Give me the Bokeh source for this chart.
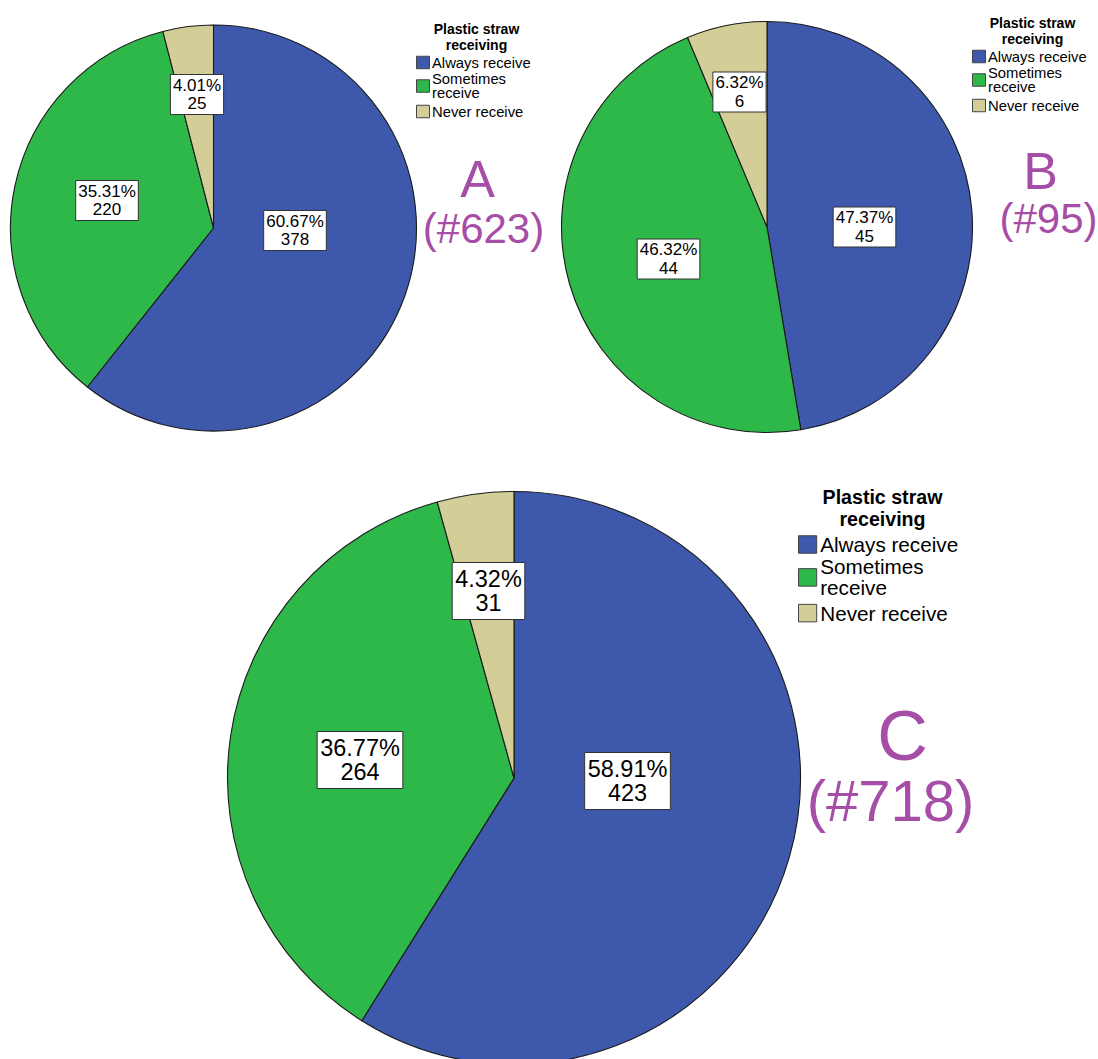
import math
from bokeh.plotting import figure
from bokeh.models import Range1d, ColumnDataSource
from bokeh.core.properties import value
from bokeh.embed import file_html
from bokeh.resources import INLINE

# ---------------- data ----------------
categories = ["Always receive", "Sometimes receive", "Never receive"]
legend_labels = ["Always receive", "Sometimes\nreceive", "Never receive"]
legend_title = "Plastic straw\nreceiving"
counts_A = [378, 220, 25]
counts_B = [45, 44, 6]
counts_C = [423, 264, 31]
panel_letters = ["A", "B", "C"]
colors = ["#3E58AC", "#2EB84A", "#D3CE98"]
purple = "#A64DA8"

W, H = 1098, 1059
FONT = "Liberation Sans"

p = figure(width=W, height=H, x_range=Range1d(0, W), y_range=Range1d(0, H),
           output_backend="svg", toolbar_location=None, min_border=0,
           min_border_left=0, min_border_right=0, min_border_top=0, min_border_bottom=0)
p.xaxis.visible = False
p.yaxis.visible = False
p.grid.visible = False
p.outline_line_color = None
p.background_fill_color = "white"


def Y(sy):
    return H - sy


def draw_pie(counts, cx, cy, r, label_pos, font_px, lh, box_pad, box_h):
    total = sum(counts)
    fr = [c / total for c in counts]
    cum = [0.0]
    for f in fr:
        cum.append(cum[-1] + f)
    starts = [math.pi / 2 - 2 * math.pi * cum[i + 1] for i in range(len(fr))]
    ends = [math.pi / 2 - 2 * math.pi * cum[i] for i in range(len(fr))]
    src = ColumnDataSource(dict(x=[cx] * 3, y=[Y(cy)] * 3, start=starts, end=ends, color=colors))
    p.wedge(x="x", y="y", radius=r, start_angle="start", end_angle="end",
            fill_color="color", line_color="#1a1a1a", line_width=1.1, source=src)
    pct = ["%.2f%%" % (100 * f) for f in fr]
    texts = [pct[i] + "\n" + str(counts[i]) for i in range(3)]
    widths = []
    for s in pct:
        em = sum(0.889 if ch == "%" else (0.278 if ch == "." else 0.556) for ch in s)
        widths.append(em * font_px + box_pad)
    hts = [box_h] * 3
    lx = [q[0] for q in label_pos]
    ly = [Y(q[1]) for q in label_pos]
    p.rect(x=lx, y=ly, width=widths, height=hts, fill_color="white",
           line_color="#333333", line_width=1)
    p.text(x=lx, y=ly, text=texts, text_align="center", text_baseline="middle",
           text_font=value(FONT), text_font_size="%.1fpx" % font_px,
           text_line_height=lh, text_color="#000000")


def draw_legend(sq_left, title_y, s):
    p.text(x=[sq_left + 60 * s], y=[Y(title_y - 7 * s)], text=[legend_title],
           text_align="center", text_baseline="top", text_font=value(FONT),
           text_font_size="%.1fpx" % (14 * s), text_font_style="bold",
           text_line_height=1.0, text_color="#000000")
    item_dy = [35, 58.5, 84]
    for i in range(3):
        yc = title_y + item_dy[i] * s
        p.rect(x=[sq_left + 6.5 * s], y=[Y(yc)], width=13 * s, height=12.5 * s,
               fill_color=colors[i], line_color="#444444", line_width=1)
        p.text(x=[sq_left + 15.5 * s], y=[Y(yc)], text=[legend_labels[i]],
               text_align="left", text_baseline="middle", text_font=value(FONT),
               text_font_size="%.1fpx" % (14.8 * s), text_line_height=0.92,
               text_color="#000000")


def draw_tag(letter, total, x1, y1, f1, x2, y2, f2):
    p.text(x=[x1], y=[Y(y1)], text=[letter], text_align="center", text_baseline="middle",
           text_font=value(FONT), text_font_size="%dpx" % f1, text_color=purple)
    p.text(x=[x2], y=[Y(y2)], text=["(#%d)" % total], text_align="center",
           text_baseline="middle", text_font=value(FONT), text_font_size="%dpx" % f2,
           text_color=purple)


# Pie A
draw_pie(counts_A, 213, 227.5, 203,
         [(294.5, 230), (106.5, 200), (196.5, 94)], 17, 0.95, 5, 40)
draw_legend(416, 27, 1.0)
draw_tag(panel_letters[0], sum(counts_A), 477, 178, 52, 483, 228, 42)

# Pie B
draw_pie(counts_B, 766.5, 226.5, 205.5,
         [(864, 226.5), (668, 258.5), (739, 91.5)], 17, 0.95, 5, 40)
draw_legend(972, 21, 1.0)
draw_tag(panel_letters[1], sum(counts_B), 1040, 170, 52, 1048, 218, 42)

# Pie C
draw_pie(counts_C, 513.5, 777.5, 286.5,
         [(627, 780.5), (359.5, 759.5), (488, 590.5)], 23.5, 0.9, 6, 57)
draw_legend(798, 495, 1.4)
draw_tag(panel_letters[2], sum(counts_C), 902, 735, 70, 890, 800, 58)

open("out.html", "w").write(file_html(p, INLINE))
